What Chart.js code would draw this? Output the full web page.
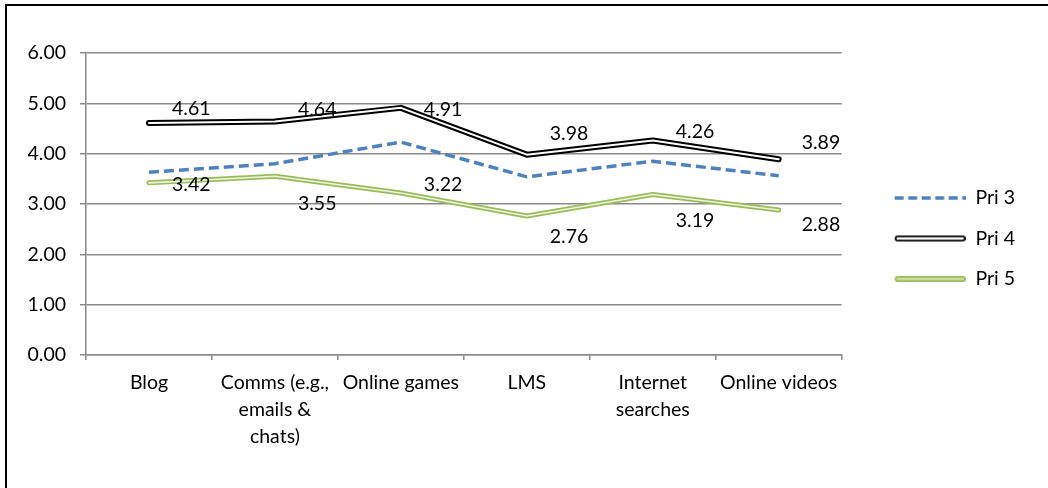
<!DOCTYPE html>
<html>
<head>
<meta charset="utf-8">
<script src="https://cdn.jsdelivr.net/npm/chart.js@4"></script>
<style>
  html, body { margin: 0; padding: 0; background: #fff; overflow: hidden; }
  #wrap { position: relative; width: 1048px; height: 488px; }
  #c { position: absolute; left: 0; top: 0; }
  #frame { position: absolute; left: 5px; top: 4px; width: 1100px; height: 600px;
           border: 2px solid #000; box-sizing: border-box; pointer-events: none; }
</style>
</head>
<body>
<div id="wrap">
  <canvas id="c" width="1048" height="488"></canvas>
  <div id="frame"></div>
</div>
<script>
// Mean ratings per activity, by primary level
const categories = ['Blog', ['Comms (e.g.,', 'emails &', 'chats)'], 'Online games', 'LMS', ['Internet', 'searches'], 'Online videos'];
const pri3 = [3.63, 3.80, 4.23, 3.54, 3.85, 3.56];
const pri4 = [4.61, 4.64, 4.91, 3.98, 4.26, 3.89];
const pri5 = [3.42, 3.55, 3.22, 2.76, 3.19, 2.88];
const yTickLabels = ['0.00', '1.00', '2.00', '3.00', '4.00', '5.00', '6.00'];

const FONT_FAMILY = 'Lato, "Open Sans", sans-serif';
const FONT_SIZE = 19.5;
const GRID = '#8a8a8a';

// Legend swatches: a line sample drawn into the right part of a small canvas
function swatch(kind) {
  const c = document.createElement('canvas');
  c.width = 103; c.height = 12;
  const g = c.getContext('2d');
  const y = 6, x0 = 35, x1 = 100;
  if (kind === 'dash') {
    g.strokeStyle = '#4F81BD'; g.lineWidth = 3.5; g.setLineDash([9, 4.5]);
    g.beginPath(); g.moveTo(32, y); g.lineTo(103, y); g.stroke();
  } else {
    const outer = kind === 'black' ? '#000' : '#9BBB59';
    const inner = kind === 'black' ? '#fff' : '#c9dba4';
    g.lineCap = 'round';
    g.strokeStyle = outer; g.lineWidth = 6;
    g.beginPath(); g.moveTo(x0, y); g.lineTo(x1, y); g.stroke();
    g.strokeStyle = inner; g.lineWidth = 2.5;
    g.beginPath(); g.moveTo(x0, y); g.lineTo(x1, y); g.stroke();
  }
  return c;
}

// Second, thinner stroke along a series to give it a double-line look
const doubleLine = {
  id: 'doubleLine',
  afterDatasetDraw(chart, args) {
    const ds = chart.data.datasets[args.index];
    if (!ds.innerColor) return;
    const pts = args.meta.data;
    const ctx = chart.ctx;
    ctx.save();
    ctx.strokeStyle = ds.innerColor;
    ctx.lineWidth = ds.innerWidth;
    ctx.lineJoin = 'round';
    ctx.lineCap = 'round';
    ctx.beginPath();
    pts.forEach((p, i) => i ? ctx.lineTo(p.x, p.y) : ctx.moveTo(p.x, p.y));
    ctx.stroke();
    ctx.restore();
  }
};

// Value labels placed to the right of each point
const valueLabels = {
  id: 'valueLabels',
  afterDatasetsDraw(chart) {
    const ctx = chart.ctx;
    chart.data.datasets.forEach((ds, i) => {
      const cfg = ds.valueLabel;
      if (!cfg) return;
      const meta = chart.getDatasetMeta(i);
      ctx.save();
      ctx.font = FONT_SIZE + 'px ' + FONT_FAMILY;
      ctx.fillStyle = '#000';
      ctx.textAlign = 'left';
      ctx.textBaseline = 'middle';
      meta.data.forEach((p, j) => {
        ctx.fillText(ds.data[j].toFixed(2), p.x + cfg.dx, p.y + cfg.dy[j]);
      });
      ctx.restore();
    });
  }
};

// Let the wrapped category labels use the room below the x axis box
const roomyLabels = {
  id: 'roomyLabels',
  afterLayout(chart) {
    chart.scales.x.bottom = chart.height;
  }
};

const font = { family: FONT_FAMILY, size: FONT_SIZE };

new Chart(document.getElementById('c'), {
  type: 'line',
  data: {
    labels: categories,
    datasets: [
      {
        label: 'Pri 3', data: pri3,
        borderColor: '#4F81BD', borderWidth: 3.5, borderDash: [10, 5],
        pointRadius: 0, pointStyle: swatch('dash'), tension: 0
      },
      {
        label: 'Pri 4', data: pri4,
        borderColor: '#000', borderWidth: 6, borderCapStyle: 'round', borderJoinStyle: 'round',
        innerColor: '#fff', innerWidth: 2,
        pointRadius: 0, pointStyle: swatch('black'), tension: 0,
        valueLabel: { dx: 23, dy: [-14, -12, 2, -21, -9, -16] }
      },
      {
        label: 'Pri 5', data: pri5,
        borderColor: '#9BBB59', borderWidth: 5, borderCapStyle: 'round', borderJoinStyle: 'round',
        innerColor: '#eef4e2', innerWidth: 1.6,
        pointRadius: 0, pointStyle: swatch('green'), tension: 0,
        valueLabel: { dx: 23, dy: [2, 27, -8, 21, 26, 15] }
      }
    ]
  },
  options: {
    responsive: false,
    animation: false,
    events: [],
    layout: { padding: { left: 6, top: 53, right: 23, bottom: 64 } },
    plugins: {
      tooltip: { enabled: false },
      legend: {
        position: 'right',
        labels: {
          usePointStyle: true, pointStyleWidth: 103, padding: 21,
          color: '#000', font: font
        }
      }
    },
    scales: {
      x: {
        offset: true,
        grid: { offset: true, drawOnChartArea: false, tickLength: 5, color: GRID, lineWidth: 1.5 },
        border: { color: GRID, width: 1.5 },
        ticks: { color: '#000', font: { family: FONT_FAMILY, size: FONT_SIZE, lineHeight: 1.38 },
                 padding: 9, maxRotation: 0, autoSkip: false },
        afterFit: s => { s.height = 69; }
      },
      y: {
        min: 0, max: 6,
        ticks: { stepSize: 1, padding: 14, color: '#000', font: font,
                 callback: (v, i) => yTickLabels[i] },
        grid: { color: GRID, lineWidth: 1.5, tickLength: 6 },
        border: { color: GRID, width: 1.5 },
        afterFit: s => { s.width = 80; }
      }
    }
  },
  plugins: [doubleLine, valueLabels, roomyLabels]
});
</script>
</body>
</html>
